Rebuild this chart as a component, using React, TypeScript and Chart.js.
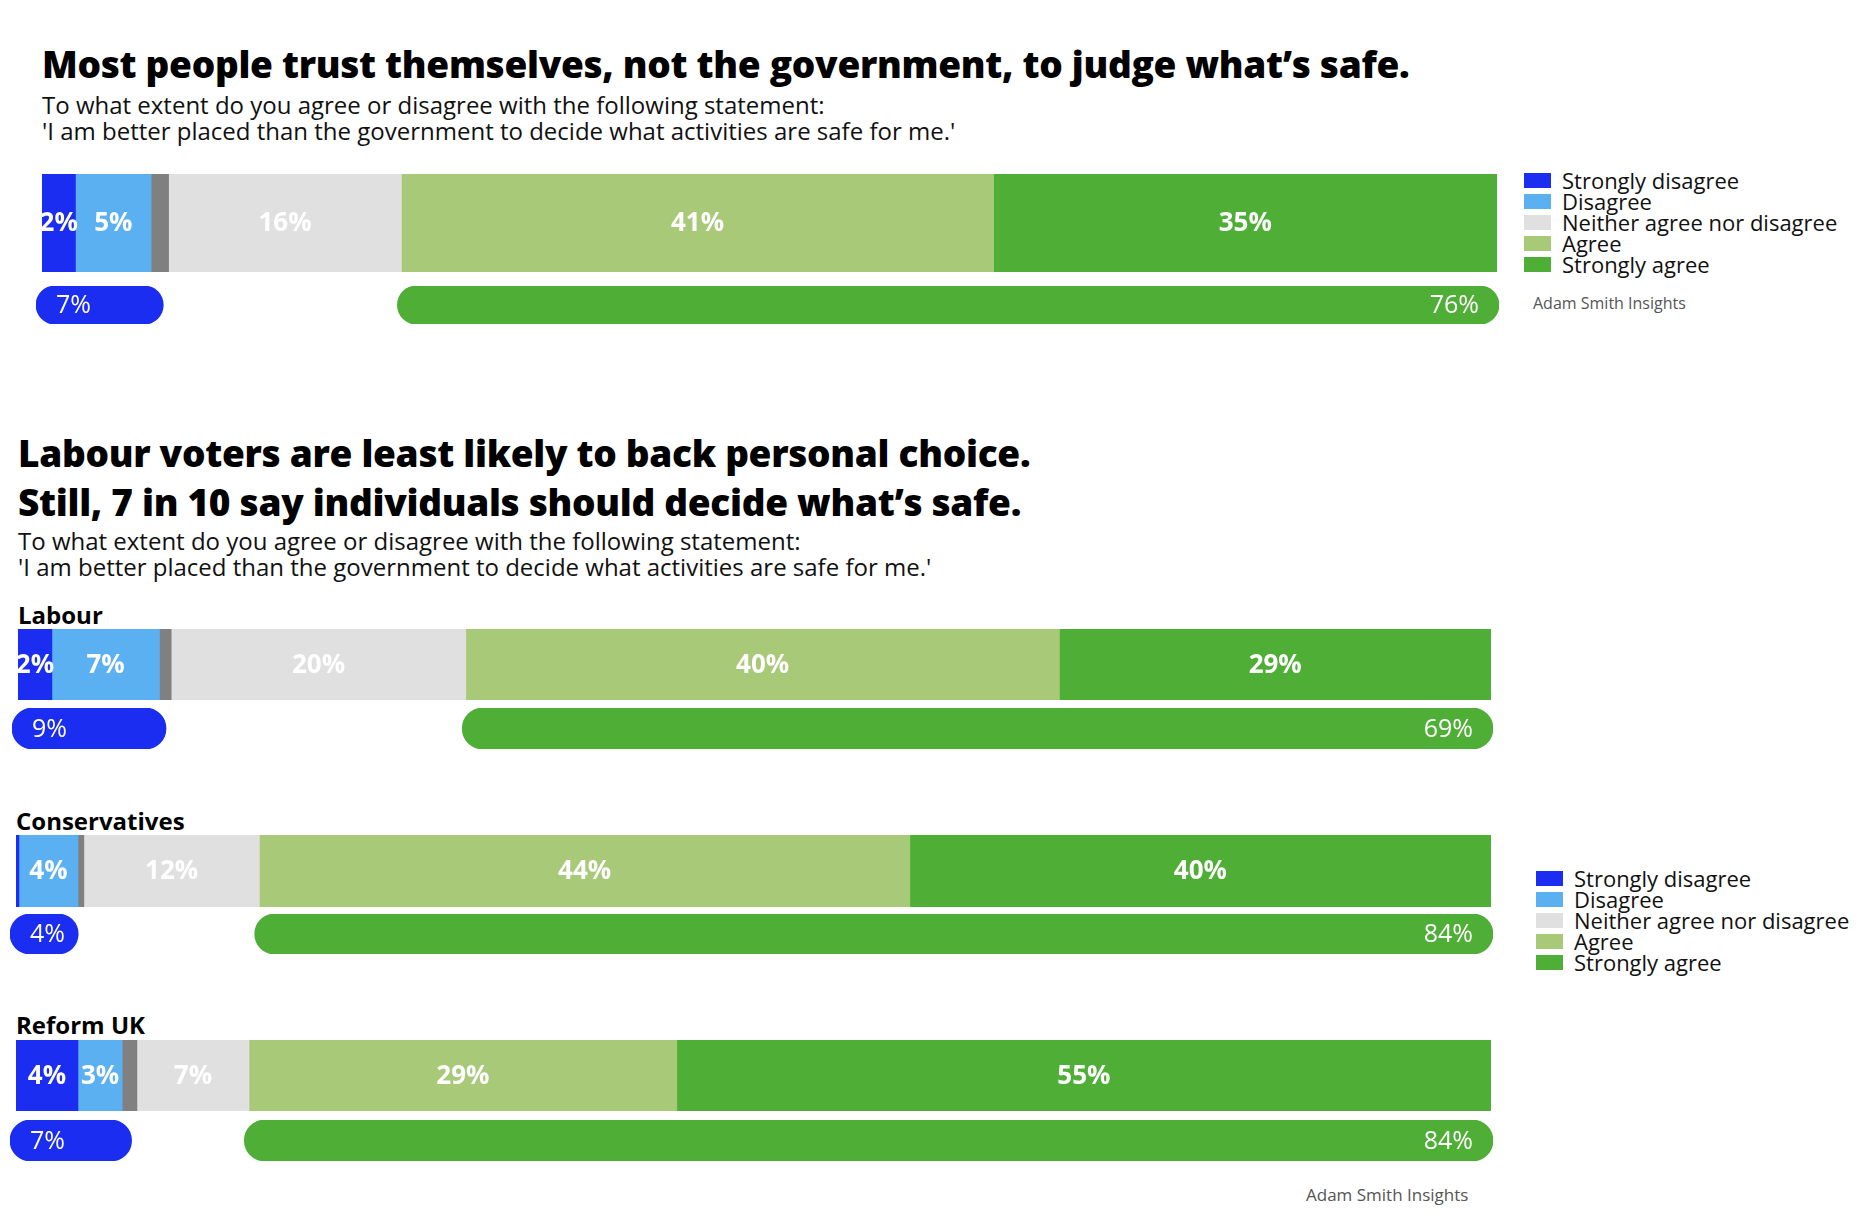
import React, { useEffect, useRef } from "react";
import { Chart, registerables } from "chart.js";
Chart.register(...registerables);

const segmentNames = ["Strongly disagree", "Disagree", "Don't know", "Neither agree nor disagree", "Agree", "Strongly agree"];
const segmentColors = ["#1a2df0", "#5ab0f0", "#808080", "#e0e0e0", "#a8c978", "#4fae35"];
const legendNames = ["Strongly disagree", "Disagree", "Neither agree nor disagree", "Agree", "Strongly agree"];
const legendColors = ["#1a2df0", "#5ab0f0", "#e0e0e0", "#a8c978", "#4fae35"];

const overallValues = [2.3, 5.2, 1.2, 16, 40.7, 34.6];
const overallLabels = ["2%", "5%", "", "16%", "41%", "35%"];
const overallPills = ["7%", "76%"];

const labourValues = [2.3, 7.3, 0.8, 20, 40.3, 29.3];
const labourLabels = ["2%", "7%", "", "20%", "40%", "29%"];
const labourPills = ["9%", "69%"];

const conValues = [0.2, 4, 0.4, 11.9, 44.1, 39.4];
const conLabels = ["", "4%", "", "12%", "44%", "40%"];
const conPills = ["4%", "84%"];

const reformValues = [4.2, 3, 1, 7.6, 29, 55.2];
const reformLabels = ["4%", "3%", "", "7%", "29%", "55%"];
const reformPills = ["7%", "84%"];

const FONT = "'Open Sans', sans-serif";

const labelPlugin = {
  id: "segLabels",
  afterDatasetsDraw(chart: any, _a: any, opts: any) {
    const ctx = chart.ctx;
    ctx.save();
    ctx.fillStyle = "#ffffff";
    ctx.textBaseline = "middle";
    (opts.labels || []).forEach((lab: string, i: number) => {
      if (!lab) return;
      const el = chart.getDatasetMeta(i).data[0];
      if (!el) return;
      ctx.font = opts.font;
      const align = (opts.align || [])[i] || "center";
      let x = (el.x + el.base) / 2;
      if (align === "left") x = Math.min(el.x, el.base) + opts.pad;
      if (align === "right") x = Math.max(el.x, el.base) - opts.pad;
      ctx.textAlign = align;
      ctx.fillText(lab, x, el.y + 1);
    });
    ctx.restore();
  },
};

function makeOpts(total: number, labels: string[], align: string[], font: string, pad: number) {
  return {
    indexAxis: "y" as const,
    animation: false as const,
    responsive: false,
    maintainAspectRatio: false,
    layout: { padding: 0 },
    datasets: { bar: { grouped: false, barPercentage: 1, categoryPercentage: 1 } },
    scales: {
      x: { display: false, min: 0, max: total },
      y: { display: false },
    },
    plugins: {
      legend: { display: false },
      tooltip: { enabled: false },
      segLabels: { labels, align, font, pad },
    },
  };
}

function BarGroup({ values, labels, pills, left, top, width, barH, pillTop, pillH }: any) {
  const barRef = useRef<HTMLCanvasElement>(null);
  const pillRef = useRef<HTMLCanvasElement>(null);
  useEffect(() => {
    const total = values.reduce((a: number, b: number) => a + b, 0);
    let cum = 0;
    const segs = values.map((v: number, i: number) => {
      const d = { data: [[cum, cum + v]], backgroundColor: segmentColors[i], label: segmentNames[i], borderWidth: 0 };
      cum += v;
      return d;
    });
    const c1 = new Chart(barRef.current!, {
      type: "bar",
      data: { labels: [""], datasets: segs as any },
      options: makeOpts(total, labels, [], `bold 26px ${FONT}`, 0) as any,
      plugins: [labelPlugin],
    });
    const disEnd = values[0] + values[1] + values[2];
    const agStart = disEnd + values[3];
    const c2 = new Chart(pillRef.current!, {
      type: "bar",
      data: {
        labels: [""],
        datasets: [
          { data: [[0, disEnd]], backgroundColor: "#1a2df0", borderRadius: 100, borderSkipped: false, borderWidth: 0 },
          { data: [[agStart, total]], backgroundColor: "#4fae35", borderRadius: 100, borderSkipped: false, borderWidth: 0 },
        ] as any,
      },
      options: makeOpts(total, pills, ["left", "right"], `500 25px ${FONT}`, 20) as any,
      plugins: [labelPlugin],
    });
    return () => { c1.destroy(); c2.destroy(); };
  }, []);
  return (
    <>
      <canvas ref={barRef} width={width} height={barH} style={{ position: "absolute", left, top, width, height: barH }} />
      <canvas ref={pillRef} width={width + 8} height={pillH} style={{ position: "absolute", left: left - 6, top: pillTop, width: width + 8, height: pillH }} />
    </>
  );
}

function Legend({ left, top }: any) {
  return (
    <div style={{ position: "absolute", left, top, fontFamily: FONT, fontSize: 22, color: "#111", lineHeight: "21px" }}>
      {legendNames.map((n, i) => (
        <div key={n} style={{ display: "flex", alignItems: "center", height: 21 }}>
          <span style={{ width: 27, height: 15, background: legendColors[i], marginRight: 11, display: "inline-block" }} />
          {n}
        </div>
      ))}
    </div>
  );
}

const T = (props: any) => <div style={{ position: "absolute", whiteSpace: "nowrap", fontFamily: FONT, color: "#000", ...props.s }}>{props.children}</div>;

export default function App() {
  useEffect(() => { document.body.style.margin = "0"; }, []);
  const title = { fontWeight: 800, fontSize: 37, letterSpacing: "-0.3px" };
  const sub = { fontSize: 24, fontWeight: 400, color: "#111", lineHeight: "26px" };
  const subText = (
    <>To what extent do you agree or disagree with the following statement:<br />'I am better placed than the government to decide what activities are safe for me.'</>
  );
  return (
    <div style={{ position: "relative", width: 1860, height: 1216, background: "#fff", overflow: "hidden" }}>
      <T s={{ ...title, left: 42, top: 38 }}>Most people trust themselves, not the government, to judge what’s safe.</T>
      <T s={{ ...sub, left: 42, top: 92 }}>{subText}</T>
      <BarGroup values={overallValues} labels={overallLabels} pills={overallPills} left={42} top={174} width={1455} barH={98} pillTop={286} pillH={38} />
      <Legend left={1524} top={170} />
      <T s={{ left: 1533, top: 292, fontSize: 16, color: "#555" }}>Adam Smith Insights</T>

      <T s={{ ...title, left: 18, top: 428, lineHeight: "49px" }}>Labour voters are least likely to back personal choice.<br />Still, 7 in 10 say individuals should decide what’s safe.</T>
      <T s={{ ...sub, left: 18, top: 528 }}>{subText}</T>

      <T s={{ left: 18, top: 598, fontSize: 24, fontWeight: 700 }}>Labour</T>
      <BarGroup values={labourValues} labels={labourLabels} pills={labourPills} left={18} top={629} width={1473} barH={71} pillTop={708} pillH={41} />

      <T s={{ left: 16, top: 804, fontSize: 24, fontWeight: 700 }}>Conservatives</T>
      <BarGroup values={conValues} labels={conLabels} pills={conPills} left={16} top={835} width={1475} barH={72} pillTop={914} pillH={40} />

      <T s={{ left: 16, top: 1008, fontSize: 24, fontWeight: 700 }}>Reform UK</T>
      <BarGroup values={reformValues} labels={reformLabels} pills={reformPills} left={16} top={1040} width={1475} barH={71} pillTop={1120} pillH={41} />

      <Legend left={1536} top={868} />
      <T s={{ left: 1306, top: 1183, fontSize: 17, color: "#555" }}>Adam Smith Insights</T>
    </div>
  );
}
